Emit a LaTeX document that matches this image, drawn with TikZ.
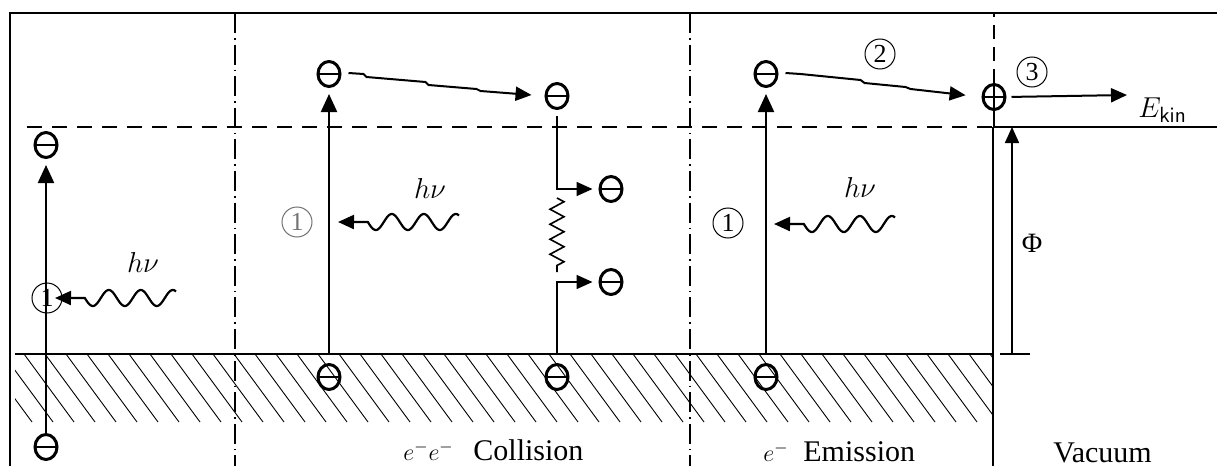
\documentclass[tikz,border=0pt]{standalone}
\usepackage{fontspec}
\setmainfont{Liberation Serif}
\usetikzlibrary{arrows.meta,shapes.geometric,decorations.pathmorphing}
\tikzset{
  elec/.style={ellipse, draw, line width=1.5pt, minimum width=11pt, minimum height=12.5pt, inner sep=0pt,
    path picture={\draw[line width=1.1pt] (path picture bounding box.west) -- (path picture bounding box.east);}},
  hole/.style={ellipse, draw, line width=1.5pt, minimum width=11pt, minimum height=12.5pt, inner sep=0pt,
    path picture={\draw[line width=0.9pt] (path picture bounding box.west) -- (path picture bounding box.east)
      (path picture bounding box.north) -- (path picture bounding box.south);}},
  num/.style={circle, draw, line width=0.5pt, minimum size=15pt, inner sep=0pt, font=\fontsize{13}{13}\selectfont},
  lab/.style={font=\fontsize{15}{18}\selectfont, inner sep=0pt},
  mlab/.style={font=\fontsize{12}{14}\selectfont, inner sep=0pt},
  hnu/.style={font=\fontsize{15}{17}\selectfont, inner sep=0pt},
  tipA/.style={-{Triangle[length=8pt,width=7pt]}},
  tipB/.style={-{Triangle[length=9pt,width=8pt]}},
  vline/.style={line width=1.1pt},
  fline/.style={line width=0.8pt},
  dashdot/.style={line width=0.8pt, dash pattern=on 10pt off 2.5pt on 0.8pt off 2.5pt},
  dashedh/.style={line width=0.75pt, dash pattern=on 7.5pt off 5pt},
  dashedv/.style={line width=0.75pt, dash pattern=on 7pt off 4pt},
}
\newcommand\myphoton[2]{%
  \draw[line width=1.1pt, tipA] plot[domain=0:2.85, samples=100] ({#1+121-32*\x},{#2+8*sin(360*(2.85-\x))}) -- (#1,#2);}
\begin{document}
\begin{tikzpicture}[x=0.5pt,y=-0.5pt]
\fill[white] (0,0) rectangle (1217,466);
\useasboundingbox (0,0) rectangle (1217,466);
% frame
\draw[line width=1.3pt] (10,466) -- (10,13) -- (1217,13);
% hatching of the solid
\begin{scope}
  \clip (15,354) rectangle (993,422);
  \foreach \x in {-60,-39,...,1000} \draw[line width=0.45pt] (\x,354) -- ++(50,68);
\end{scope}
\coordinate (surfL) at (15,354);
\coordinate (surfR) at (993,354);
\draw[line width=1pt] (surfL) -- (surfR);
% separators
\draw[dashdot] (235,13) -- (235,466);
\draw[dashdot] (690,13) -- (690,466);
% vacuum level
\coordinate (vacL) at (27,127);
\coordinate (vacM) at (993,127);
\coordinate (vacR) at (1217,127);
\draw[dashedh] (vacL) -- (vacM);
\draw[line width=1pt] (vacM) -- (vacR);
\draw[line width=1.2pt] (vacM) -- (993,466);

% ---- left column
\node[elec] (L1) at (46,447) {};
\node[elec] (L2) at (46,145) {};
\node[num] (n1a) at (47,298) {1};
\draw[vline, tipB, shorten >=3pt] (L1.north) -- (L2.south);
\myphoton{55}{298}
\node[hnu] (hv1) at (143,262) {$h\nu$};

% ---- collision column
\node[elec] (M0) at (329,377) {};
\node[elec] (M1) at (329,74) {};
\node[num, draw=black!55, text=black!55] (n1b) at (297,222) {1};
\draw[vline, tipB, shorten >=3pt] (M1 |- surfL) -- (M1.south);
\myphoton{338}{222}
\node[hnu] (hv2) at (430,188) {$h\nu$};
\node[elec] (C2) at (557,96) {};
\node[elec] (C3) at (611,189) {};
\node[elec] (C4) at (611,282) {};
\node[elec] (C5) at (557,377) {};
\draw[line width=1pt, tipA, shorten >=6.5pt] (M1.east) ++(7,-1) -- ++(15,1) -- ++(3,3) -- ++(59,5)
  -- ++(3,3) -- ++(48,4) -- ++(4,2) -- (C2.west);
\draw[fline, tipA, shorten <=3pt, shorten >=3pt] (C2.south) -- (C2.south |- C3) -- (C3.west);
\draw[fline, decorate, decoration={zigzag, segment length=7.5pt, amplitude=3.5pt}] (557,198) -- (557,272);
\draw[fline, tipA, shorten >=3pt] (C5 |- surfL) -- (C5 |- C4) -- (C4.west);

% ---- emission column
\node[elec] (E0) at (766,377) {};
\node[elec] (E1) at (766,74) {};
\node[num] (n1c) at (728,223) {1};
\draw[vline, tipB, shorten >=3pt] (E1 |- surfL) -- (E1.south);
\myphoton{774}{224}
\node[hnu] (hv3) at (860,187) {$h\nu$};
\node[hole] (H) at (994,97) {};
\node[num] (n2) at (880,54) {2};
\draw[line width=1pt, tipA, shorten >=8pt] (E1.east) ++(7,-1) -- ++(15,1) -- ++(60,6) -- ++(4,3)
  -- ++(41,4) -- ++(5,2) -- (H.west);
\draw[dashedv] (H.north) -- (H.north |- 0,13);
\draw[line width=0.6pt] (H.south) -- (H.south |- vacM);

% ---- vacuum side
\node[num] (n3) at (1032,72) {3};
\coordinate (kinend) at (1127,95);
\draw[line width=1pt, tipA, shorten <=2.5pt] (H.east) -- (kinend);
\node[hnu, anchor=base west] (ekin) at (1138,117) {$E_{\textsf{\fontsize{11}{12}\selectfont kin}}$};
\coordinate (phib) at (1012,354);
\coordinate (phit) at (1012,127);
\draw[fline] (1000,354) -- (1030,354);
\draw[fline, tipA] (phib) -- (phit);
\node[font=\fontsize{14}{16}\selectfont, inner sep=0pt] (phi) at (1032,243) {Φ};

% ---- bottom labels
\node[mlab, anchor=base west] (ee) at (403,460) {$e^-e^-$};
\node[lab, anchor=base west] (coll) at (473,460) {Collision};
\node[mlab, anchor=base west] (em1) at (763,461) {$e^-$};
\node[lab, anchor=base west] (em2) at (803,461) {Emission};
\node[lab, anchor=base west] (vac) at (1053,462) {Vacuum};
\end{tikzpicture}
\end{document}
